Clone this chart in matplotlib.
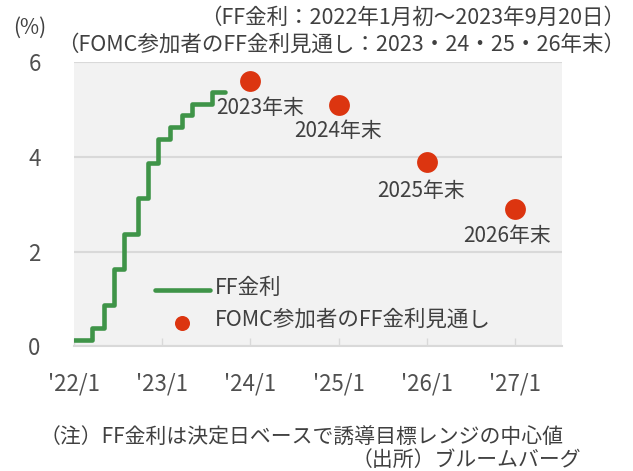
import matplotlib
matplotlib.use('Agg')
import matplotlib.pyplot as plt
from datetime import datetime

plt.rcParams['font.family'] = ['Noto Sans CJK JP', 'DejaVu Sans']

# FF rate (midpoint of target range), by decision date
ff_dates = ['2022-01-01', '2022-03-16', '2022-05-04', '2022-06-15', '2022-07-27',
            '2022-09-21', '2022-11-02', '2022-12-14', '2023-02-01', '2023-03-22',
            '2023-05-03', '2023-07-26', '2023-09-20']
ff_rate = [0.125, 0.375, 0.875, 1.625, 2.375, 3.125, 3.875, 4.375, 4.625, 4.875,
           5.125, 5.375, 5.375]

# FOMC projections (median), plotted at year end
fomc_dates = ['2024-01-01', '2025-01-01', '2026-01-01', '2027-01-01']
fomc_rate = [5.6, 5.1, 3.9, 2.9]
fomc_labels = ['2023年末', '2024年末', '2025年末', '2026年末']

tick_dates = ['2022-01-01', '2023-01-01', '2024-01-01', '2025-01-01', '2026-01-01', '2027-01-01']
tick_labels = ["'22/1", "'23/1", "'24/1", "'25/1", "'26/1", "'27/1"]

GREEN = '#3f9448'
RED = '#dc3510'
TXT = '#404040'
GRID = '#d9d9d9'

to_dt = lambda lst: [datetime.strptime(d, '%Y-%m-%d') for d in lst]

fig = plt.figure(figsize=(6.33, 4.71), dpi=100)
ax = fig.add_axes([0.117, 0.265, 0.771, 0.603])
ax.set_facecolor('#f2f2f2')

ax.step(to_dt(ff_dates), ff_rate, where='post', color=GREEN, lw=3.3,
        solid_joinstyle='round', solid_capstyle='round', zorder=3)
ax.scatter(to_dt(fomc_dates), fomc_rate, s=225, color=RED, zorder=4, linewidths=0)

# labels for projection dots (pixel offsets from the dot)
offsets = [(-34, -27), (-45, -26), (-50, -29), (-52, -27)]
for d, v, lab, (dx, dy) in zip(to_dt(fomc_dates), fomc_rate, fomc_labels, offsets):
    ax.annotate(lab, (d, v), xytext=(dx, dy), textcoords='offset pixels',
                fontsize=15, color=TXT, va='center', ha='left')

ax.set_xlim(datetime(2022, 1, 1), datetime(2027, 7, 15))
ax.set_ylim(0, 6)
ax.set_yticks([0, 2, 4, 6])
ax.set_xticks(to_dt(tick_dates))
ax.set_xticklabels(tick_labels)
ax.yaxis.grid(True, color=GRID, lw=1.5)
ax.set_axisbelow(True)
for s in ['left', 'right', 'top']:
    ax.spines[s].set_visible(False)
ax.spines['bottom'].set_color(GRID)
ax.spines['bottom'].set_linewidth(1.5)
ax.tick_params(axis='y', length=0, pad=24, labelsize=16, labelcolor='#505050')
ax.tick_params(axis='x', direction='in', length=6, width=1, color=GRID,
               pad=19, labelsize=16, labelcolor='#505050')

# legend drawn by hand inside the axes
ax.plot([0.166, 0.279], [0.197, 0.197], transform=ax.transAxes, color=GREEN, lw=3.3,
        solid_capstyle='round')
ax.text(0.289, 0.204, 'FF金利', transform=ax.transAxes, fontsize=15.5, color=TXT, va='center')
ax.scatter([0.221], [0.081], transform=ax.transAxes, s=117, color=RED, linewidths=0)
ax.text(0.289, 0.092, 'FOMC参加者のFF金利見通し', transform=ax.transAxes, fontsize=15.5,
        color=TXT, va='center')

fig.text(0.988, 0.962, '（FF金利：2022年1月初～2023年9月20日）', ha='right', va='center',
         fontsize=15.5, color=TXT)
fig.text(0.988, 0.905, '（FOMC参加者のFF金利見通し：2023・24・25・26年末）', ha='right',
         va='center', fontsize=15.5, color=TXT)
fig.text(0.047, 0.942, '(%)', ha='center', va='center', fontsize=15, color=TXT)

fig.text(0.063, 0.07, '（注）FF金利は決定日ベースで誘導目標レンジの中心値', ha='left',
         va='center', fontsize=15, color=TXT)
fig.text(0.918, 0.023, '（出所）ブルームバーグ', ha='right', va='center',
         fontsize=15, color=TXT)

fig.savefig('out.png', dpi=100)
